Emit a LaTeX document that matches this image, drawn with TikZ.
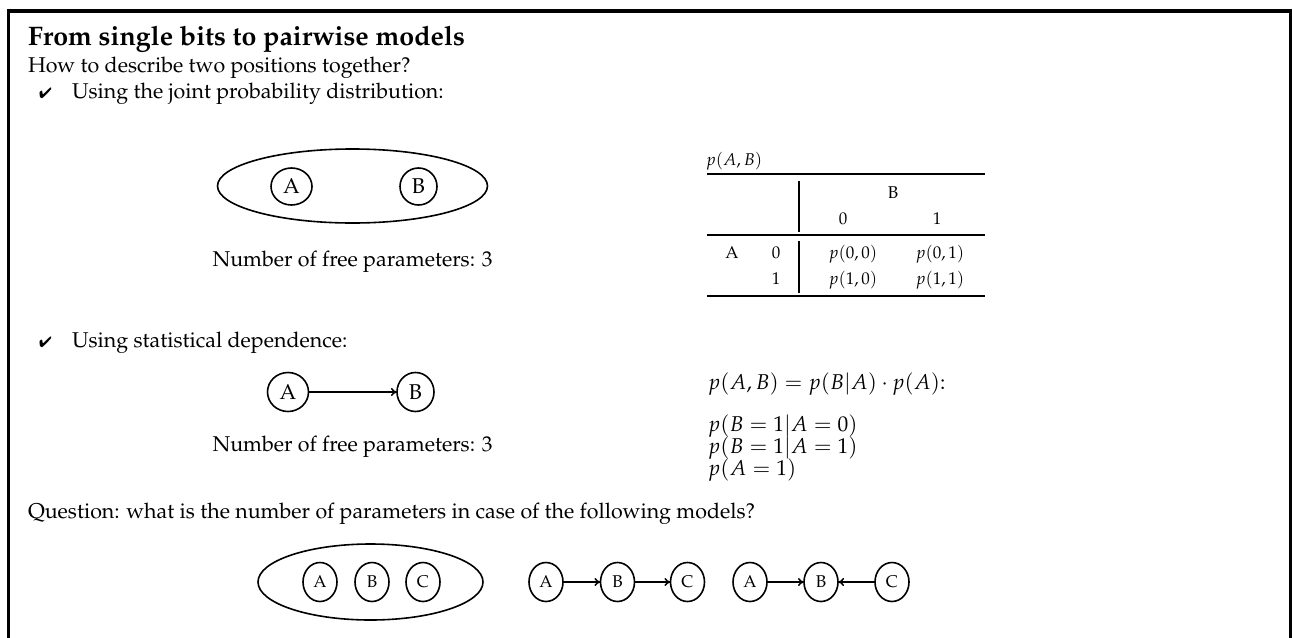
\documentclass[tikz,border=0pt]{standalone}
\usepackage[T1]{fontenc}
\usepackage{mathpazo}
\usepackage{pifont}
\usetikzlibrary{shapes.geometric,arrows.meta}
\newcommand\bodyfs{\fontsize{21.4}{25.5}\selectfont}
\newcommand\smallfs{\fontsize{17}{20}\selectfont}
\newcommand\titlefs{\fontsize{26.8}{31}\selectfont\bfseries}
\begin{document}
\begin{tikzpicture}[x=1pt,y=-1pt,
  every node/.style={inner sep=0pt, outer sep=0pt},
  txt/.style={anchor=base west, font=\bodyfs},
  ctr/.style={anchor=base, font=\bodyfs},
  cell/.style={anchor=base, font=\smallfs},
  chk/.style={anchor=base west, font=\fontsize{15}{18}\selectfont},
  var/.style={draw, ellipse, line width=1.6pt, minimum width=40pt, minimum height=37pt, font=\bodyfs},
  smallvar/.style={var, minimum width=34pt, minimum height=39pt, font=\smallfs},
  group/.style={draw, ellipse, line width=1.6pt},
  link/.style={-{To[length=6pt,width=8pt]}, line width=1.5pt},
  heavyrule/.style={line width=2.3pt},
  lightrule/.style={line width=1.3pt},
  vrule/.style={line width=1.6pt}
]
\useasboundingbox (0,0) rectangle (1292,637);
\clip (0,0) rectangle (1292,637);
\draw[line width=3.5pt] (8.5,11) rectangle (1290.5,700);

% heading and intro
\node[anchor=base west, font=\titlefs] (title) at (28,45) {From single bits to pairwise models};
\node[txt] (intro) at (28,72) {How to describe two positions together?};
\node[chk] (chk1) at (39,98) {\ding{52}};
\node[txt] (item1) at (72,98) {Using the joint probability distribution:};

% joint model
\node[group, minimum width=270pt, minimum height=74pt] (e1) at (352.5,186) {};
\node[var, minimum width=41pt] (a1) at (291.5,186.5) {A};
\node[var, minimum width=37pt] (b1) at (418.5,186.5) {B};
\node[ctr] (n1) at (352.5,266) {Number of free parameters: 3};

% table
\node[anchor=base west, font=\smallfs] (plab) at (706,165) {$p(A,B)$};
\coordinate (tl) at (707,174);
\coordinate (tr) at (985,174);
\draw[heavyrule] (tl) -- (tr);
\draw[lightrule] (707,235) -- (985,235);
\draw[heavyrule] (707,296) -- (985,296);
\draw[vrule] (799,181) -- (799,231.5);
\draw[vrule] (799,241) -- (799,292.5);
\node[cell] (hB) at (893,198) {B};
\node[cell] (h0) at (843,224) {0};
\node[cell] (h1) at (937,224) {1};
\node[cell] (rA) at (732,258.5) {A};
\node[cell] (r0) at (776,258.5) {0};
\node[cell] (r1) at (776,284) {1};
\node[cell] (p00) at (853,258.5) {$p(0,0)$};
\node[cell] (p01) at (940,258.5) {$p(0,1)$};
\node[cell] (p10) at (853,284) {$p(1,0)$};
\node[cell] (p11) at (940,284) {$p(1,1)$};

% dependence model
\node[chk] (chk2) at (39,347) {\ding{52}};
\node[txt] (item2) at (72,347) {Using statistical dependence:};
\node[var, minimum width=41pt, minimum height=39pt] (a2) at (288,392) {A};
\node[var, minimum width=37pt, minimum height=39pt] (b2) at (415.5,392) {B};
\draw[link] (a2) -- (b2);
\node[ctr] (n2) at (352.5,451) {Number of free parameters: 3};

\node[txt] (f0) at (708,389) {$p(A,B) = p(B|A)\cdot p(A)$:};
\node[txt] (f1) at (708,431) {$p(B=1|A=0)$};
\node[txt] (f2) at (708,453) {$p(B=1|A=1)$};
\node[txt] (f3) at (708,475) {$p(A=1)$};

% question
\node[txt] (qst) at (28,518) {Question: what is the number of parameters in case of the following models?};

\node[group, minimum width=225pt, minimum height=76pt] (e3) at (370.5,582) {};
\node[smallvar] (a3) at (320,582) {A};
\node[smallvar] (b3) at (372,582) {B};
\node[smallvar] (c3) at (423,582) {C};

\node[smallvar] (a4) at (546,582) {A};
\node[smallvar] (b4) at (617.5,582) {B};
\node[smallvar] (c4) at (687.5,582) {C};
\draw[link] (a4) -- (b4);
\draw[link] (b4) -- (c4);

\node[smallvar] (a5) at (750,582) {A};
\node[smallvar] (b5) at (821,582) {B};
\node[smallvar] (c5) at (892,582) {C};
\draw[link] (a5) -- (b5);
\draw[link] (c5) -- (b5);
\end{tikzpicture}
\end{document}
